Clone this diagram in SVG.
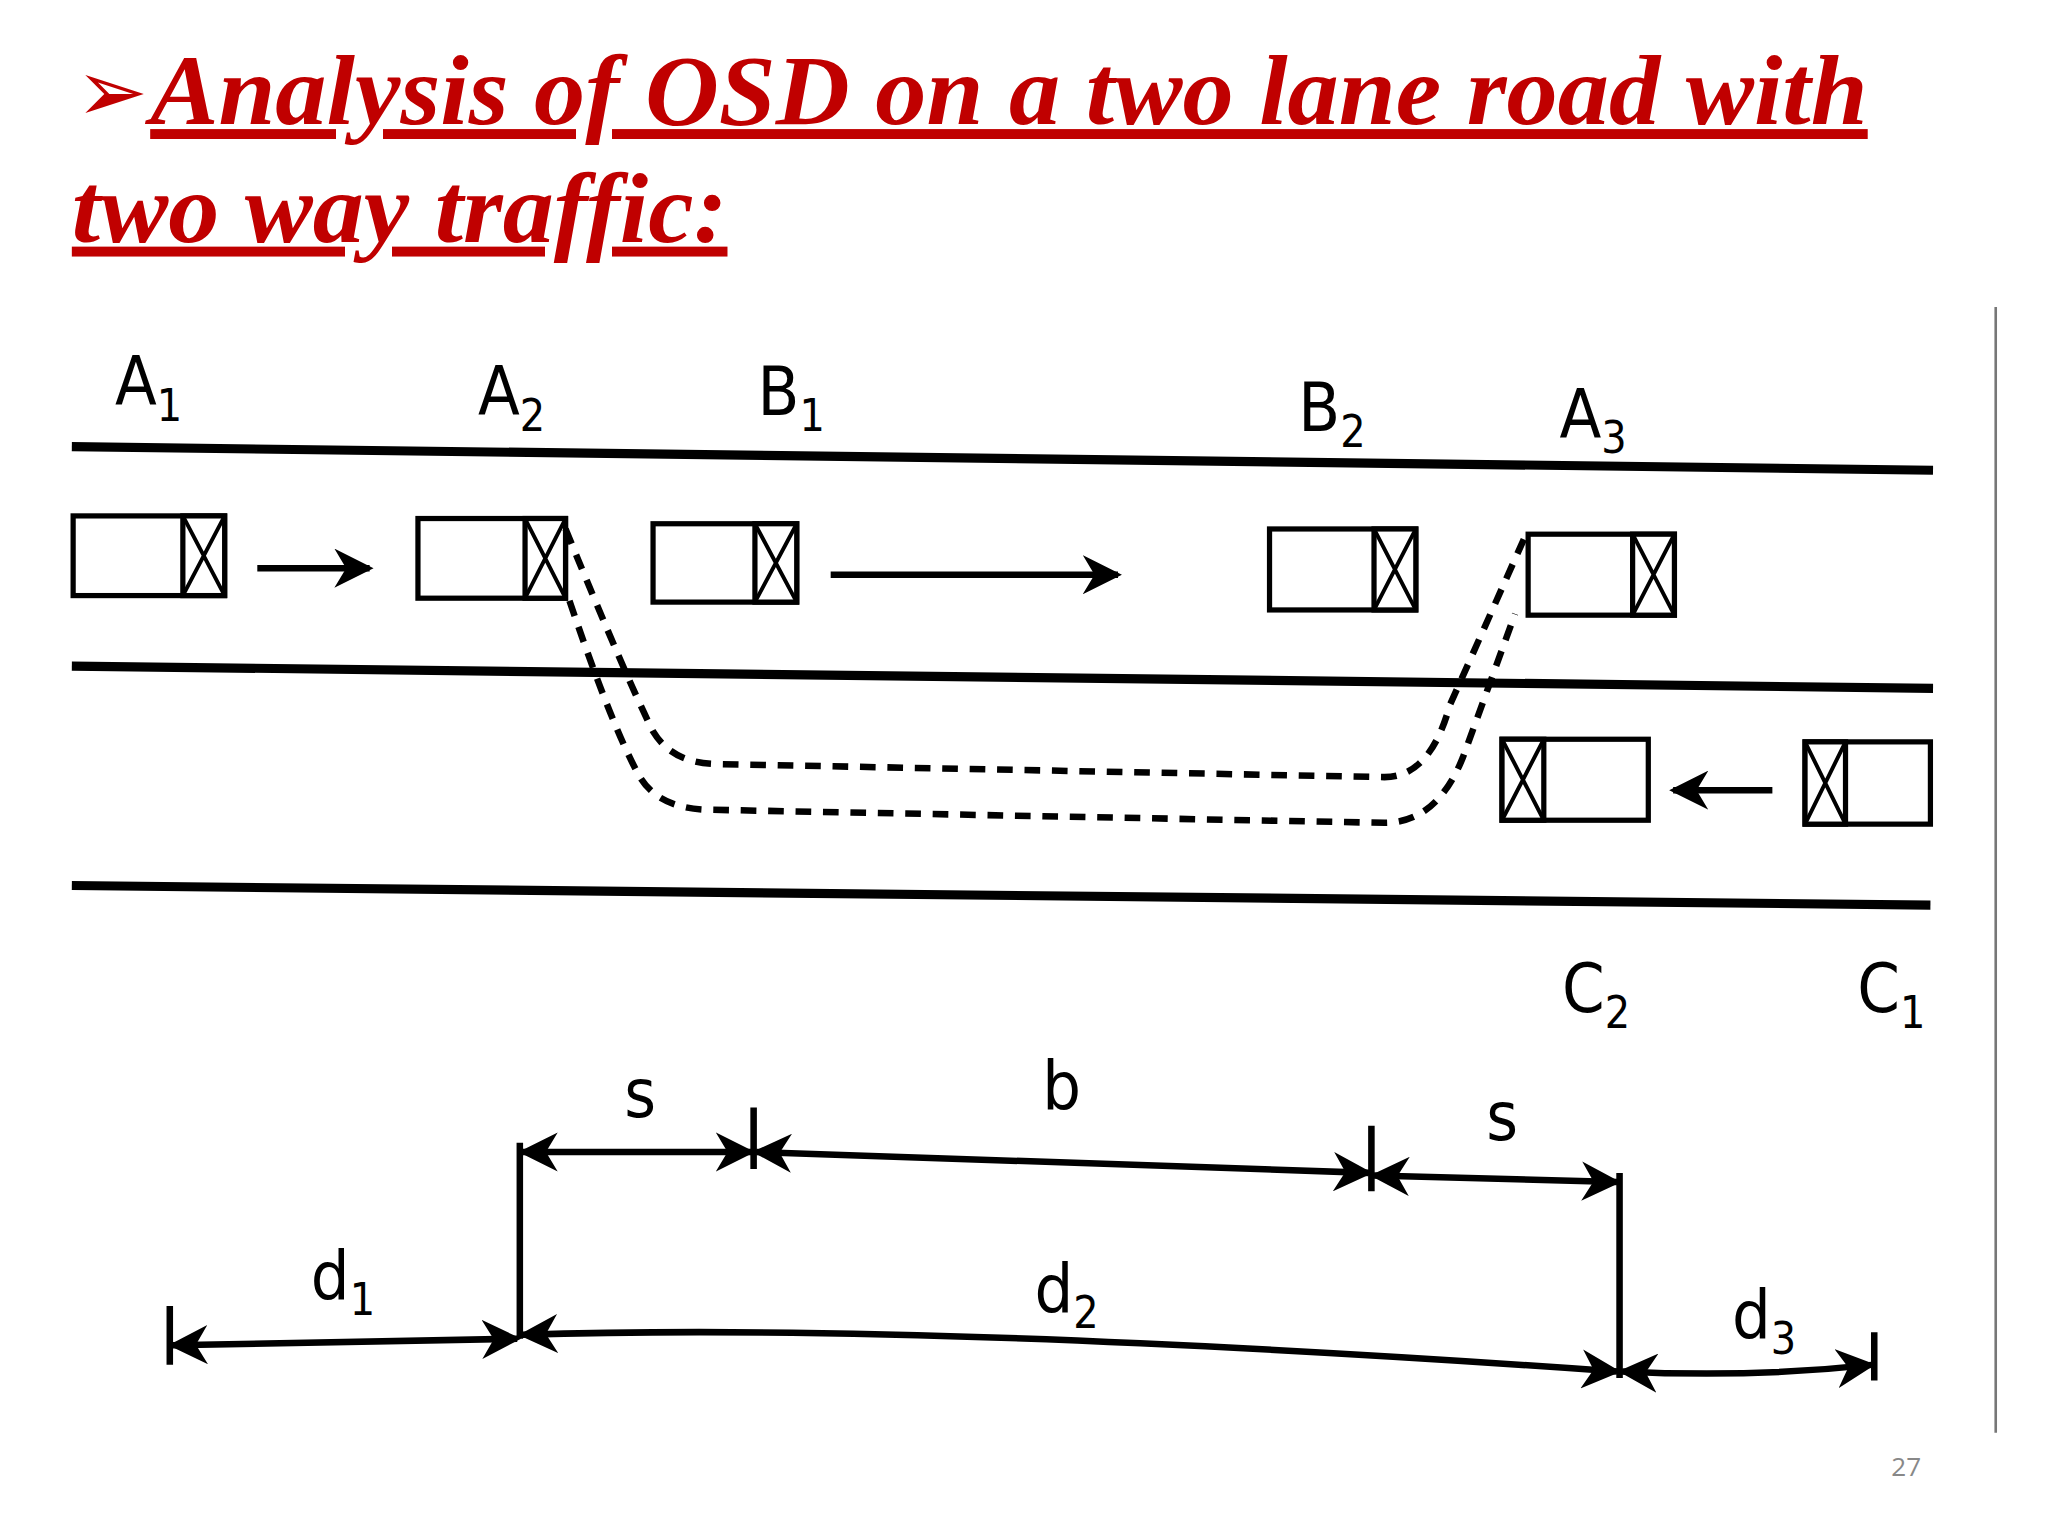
<svg xmlns="http://www.w3.org/2000/svg" width="2048" height="1536" viewBox="0 0 2048 1536">
<style>
.t{font-family:"Liberation Serif",serif;font-weight:bold;font-style:italic;font-size:76px;fill:#c00000;text-decoration:underline}
.road{stroke:#000;stroke-width:7;fill:none}
.car rect{fill:#fff;stroke:#000;stroke-width:4}
.car path{stroke:#000;stroke-width:3;fill:none}
.lb{font-family:"DejaVu Sans Condensed","DejaVu Sans",sans-serif;font-size:52px;fill:#000}
.sub{font-size:34px}
.dim{stroke:#000;stroke-width:5;fill:none}
.dash{stroke:#000;stroke-width:5;fill:none;stroke-dasharray:12 9}
</style>
<defs>
<marker id="ah" viewBox="0 0 10 10" refX="9" refY="5" markerWidth="6" markerHeight="6" orient="auto-start-reverse"><path d="M0,0 L10,5 L0,10 L3,5 Z" fill="#000"/></marker>
</defs>
<rect width="2048" height="1536" fill="#fff"/>
<g transform="scale(1.3061)">
<g id="title">
<text x="58" y="93" font-family="DejaVu Sans,sans-serif" font-size="66" fill="#c00000">➢</text>
<text class="t" x="115" y="95" textLength="1315" lengthAdjust="spacingAndGlyphs">Analysis of OSD on a two lane road with</text>
<text class="t" x="55" y="185" textLength="502" lengthAdjust="spacingAndGlyphs">two way traffic:</text>
</g>
<g id="roads">
<path class="road" d="M55,342 L1480,360"/>
<path class="road" d="M55,510 L1480,527"/>
<path class="road" d="M55,678 L1478,693"/>
</g>
<g id="car-A1" class="car"><rect x="56" y="395" width="116" height="61"/><rect x="140" y="395" width="32" height="61"/><path d="M140,395 L172,456 M172,395 L140,456"/></g>
<g id="car-A2" class="car"><rect x="320" y="397" width="113" height="61"/><rect x="402" y="397" width="31" height="61"/><path d="M402,397 L433,458 M433,397 L402,458"/></g>
<g id="car-B1" class="car"><rect x="500" y="401" width="110" height="60"/><rect x="578" y="401" width="32" height="60"/><path d="M578,401 L610,461 M610,401 L578,461"/></g>
<g id="car-B2" class="car"><rect x="972" y="405" width="112" height="62"/><rect x="1052" y="405" width="32" height="62"/><path d="M1052,405 L1084,467 M1084,405 L1052,467"/></g>
<g id="car-A3" class="car"><rect x="1170" y="409" width="112" height="62"/><rect x="1250" y="409" width="32" height="62"/><path d="M1250,409 L1282,471 M1282,409 L1250,471"/></g>
<g id="car-C2" class="car"><rect x="1150" y="566" width="112" height="62"/><rect x="1150" y="566" width="32" height="62"/><path d="M1150,566 L1182,628 M1182,566 L1150,628"/></g>
<g id="car-C1" class="car"><rect x="1382" y="568" width="96" height="63"/><rect x="1382" y="568" width="31" height="63"/><path d="M1382,568 L1413,631 M1413,568 L1382,631"/></g>
<g id="connectors">
<path class="dim" d="M197,435 L283,435" marker-end="url(#ah)" stroke-width="7"/>
<path class="dim" d="M636,440 L856,440" marker-end="url(#ah)" stroke-width="7"/>
<path class="dim" d="M1357,605 L1281,605" marker-end="url(#ah)" stroke-width="7"/>
<path class="dash" d="M433,405 Q480,520 500,560 Q515,585 550,585 L1060,595 Q1095,595 1110,540 L1168,410"/>
<path class="dash" d="M436,460 Q470,560 490,595 Q505,620 545,620 L1060,630 Q1100,630 1120,580 L1160,470"/>
<path class="dim" d="M398,875 L398,1025 M1240,898 L1240,1055 M577,848 L577,895 M1050,862 L1050,912 M130,1000 L130,1045 M1435,1020 L1435,1057"/>
<path class="dim" d="M400,882 L575,882" marker-start="url(#ah)" marker-end="url(#ah)"/>
<path class="dim" d="M579,882 L1048,898" marker-start="url(#ah)" marker-end="url(#ah)"/>
<path class="dim" d="M1052,900 L1238,905" marker-start="url(#ah)" marker-end="url(#ah)"/>
<path class="dim" d="M132,1030 L396,1025" marker-start="url(#ah)" marker-end="url(#ah)"/>
<path class="dim" d="M400,1022 Q700,1012 1238,1050" marker-start="url(#ah)" marker-end="url(#ah)"/>
<path class="dim" d="M1242,1050 Q1340,1055 1433,1045" marker-start="url(#ah)" marker-end="url(#ah)"/>
</g>
<g id="labels">
<text class="lb" x="88" y="310">A<tspan class="sub" dy="12">1</tspan></text>
<text class="lb" x="366" y="318">A<tspan class="sub" dy="12">2</tspan></text>
<text class="lb" x="580" y="318">B<tspan class="sub" dy="12">1</tspan></text>
<text class="lb" x="994" y="330">B<tspan class="sub" dy="12">2</tspan></text>
<text class="lb" x="1194" y="335">A<tspan class="sub" dy="12">3</tspan></text>
<text class="lb" x="1196" y="775">C<tspan class="sub" dy="12">2</tspan></text>
<text class="lb" x="1422" y="775">C<tspan class="sub" dy="12">1</tspan></text>
<text class="lb" x="478" y="855">s</text>
<text class="lb" x="798" y="850">b</text>
<text class="lb" x="1138" y="873">s</text>
<text class="lb" x="238" y="995">d<tspan class="sub" dy="12">1</tspan></text>
<text class="lb" x="792" y="1005">d<tspan class="sub" dy="12">2</tspan></text>
<text class="lb" x="1326" y="1025">d<tspan class="sub" dy="12">3</tspan></text>
</g>
<path d="M1528,235 L1528,1097" stroke="#777" stroke-width="2"/>
<text x="1448" y="1130" font-family="Open Sans,sans-serif" font-size="20" fill="#888">27</text>
</g>
</svg>
